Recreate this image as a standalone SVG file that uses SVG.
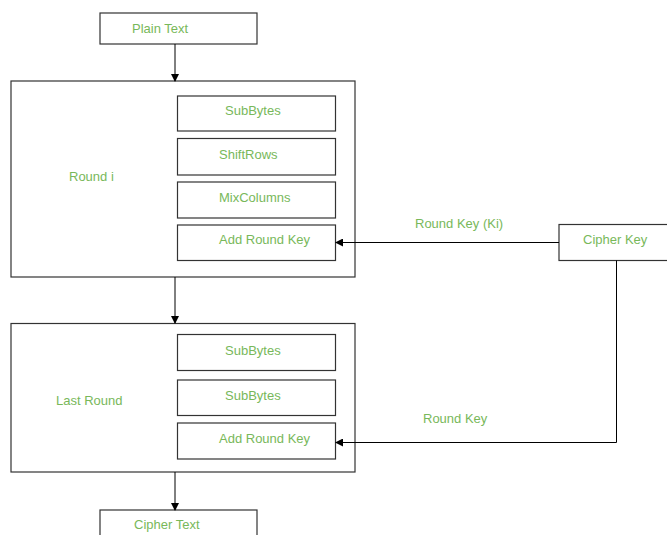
<svg xmlns="http://www.w3.org/2000/svg" width="667" height="535" viewBox="0 0 667 535">
<defs>
<style>
.box{fill:#fff;stroke:#333;stroke-width:1.2}
.t{font-family:"Liberation Sans",Arial,sans-serif;font-size:13px;fill:#78b85a;dominant-baseline:central}
.c{fill:none;stroke:#000;stroke-width:1}
</style>
<marker id="ah" markerWidth="8" markerHeight="8" refX="7" refY="4" orient="auto" markerUnits="userSpaceOnUse">
<path d="M0,0 L8,4 L0,8 Z" fill="#000"/>
</marker>
</defs>
<rect width="667" height="535" fill="#fff"/>
<g id="plaintext"><rect class="box" x="100" y="13" width="157" height="31"/><text class="t" x="132" y="28">Plain Text</text></g>
<g id="roundi">
<rect class="box" x="11" y="81" width="344" height="196"/>
<text class="t" x="69" y="176">Round i</text>
</g>
<g id="subbytes1"><rect class="box" x="177.5" y="96" width="158" height="35"/><text class="t" x="225" y="110">SubBytes</text></g>
<g id="shiftrows"><rect class="box" x="177.5" y="138.5" width="158" height="36.5"/><text class="t" x="219" y="154">ShiftRows</text></g>
<g id="mixcolumns"><rect class="box" x="177.5" y="182" width="158" height="36"/><text class="t" x="219" y="197">MixColumns</text></g>
<g id="addroundkey1"><rect class="box" x="177.5" y="225" width="158" height="35.5"/><text class="t" x="219" y="239">Add Round Key</text></g>
<g id="cipherkey"><rect class="box" x="559" y="224.5" width="112" height="36"/><text class="t" x="583" y="239">Cipher Key</text></g>
<g id="lastround">
<rect class="box" x="11" y="323.5" width="344" height="148.5"/>
<text class="t" x="56" y="400">Last Round</text>
</g>
<g id="subbytes2"><rect class="box" x="177.5" y="334.5" width="158" height="36"/><text class="t" x="225" y="350">SubBytes</text></g>
<g id="subbytes3"><rect class="box" x="177.5" y="380" width="158" height="35.5"/><text class="t" x="225" y="395">SubBytes</text></g>
<g id="addroundkey2"><rect class="box" x="177.5" y="423" width="158" height="36"/><text class="t" x="219" y="438">Add Round Key</text></g>
<g id="ciphertext"><rect class="box" x="100" y="510" width="157" height="40"/><text class="t" x="134" y="524">Cipher Text</text></g>
<g id="connectors">
<line class="c" x1="175" y1="44" x2="175" y2="81" marker-end="url(#ah)"/>
<line class="c" x1="175" y1="277" x2="175" y2="323" marker-end="url(#ah)"/>
<line class="c" x1="175" y1="472" x2="175" y2="510" marker-end="url(#ah)"/>
<line class="c" x1="559" y1="242.5" x2="336" y2="242.5" marker-end="url(#ah)"/>
<polyline class="c" points="616.5,260.5 616.5,442.5 336,442.5" marker-end="url(#ah)"/>
<text class="t" x="415" y="223">Round Key (Ki)</text>
<text class="t" x="423" y="418">Round Key</text>
</g>
</svg>
